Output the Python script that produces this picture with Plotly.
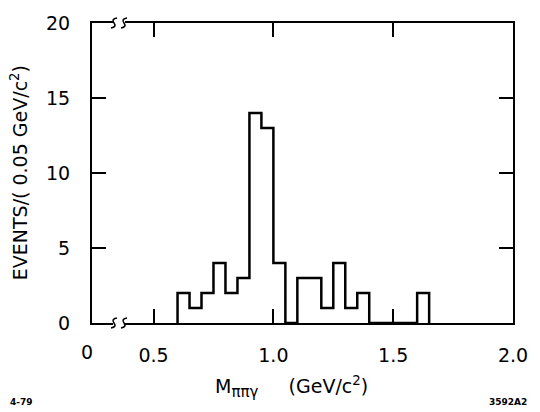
import plotly.graph_objects as go

# ---- data ----
bin_left = [0.60, 0.65, 0.70, 0.75, 0.80, 0.85, 0.90, 0.95, 1.00, 1.05,
            1.10, 1.15, 1.20, 1.25, 1.30, 1.35, 1.40, 1.45, 1.50, 1.55, 1.60]
bin_right_end = 1.65
counts = [2, 1, 2, 4, 2, 3, 14, 13, 4, 0,
          3, 3, 1, 4, 1, 2, 0, 0, 0, 0, 2]
x_tickvals = [0.5, 1.0, 1.5, 2.0]
x_ticktext = ["0.5", "1.0", "1.5", "2.0"]
y_tickvals = [0, 5, 10, 15, 20]

# step outline
xs = [bin_left[0]] + bin_left + [bin_right_end]
ys = [0] + counts + [0]

X_MIN = 0.243  # broken axis: left edge stands for 0

fig = go.Figure()
fig.add_trace(go.Scatter(x=xs, y=ys, mode="lines", line_shape="hv",
                         line=dict(color="black", width=2.5),
                         showlegend=False, hoverinfo="skip"))

font = "DejaVu Sans, Liberation Sans, sans-serif"

fig.update_layout(
    width=540, height=412,
    margin=dict(l=92, r=17, t=18, b=89),
    paper_bgcolor="white", plot_bgcolor="white",
    font=dict(family=font, color="black", size=19),
    xaxis=dict(range=[X_MIN, 2.0], tickvals=x_tickvals, ticktext=x_ticktext,
               showgrid=False, zeroline=False, showline=True, linecolor="black",
               linewidth=2, mirror="ticks", ticks="inside", ticklen=14,
               tickwidth=1.5, tickcolor="black", ticklabelstandoff=14,
               tickfont=dict(size=19)),
    yaxis=dict(range=[0, 20], tickvals=y_tickvals,
               showgrid=False, zeroline=False, showline=True, linecolor="black",
               linewidth=2, mirror="ticks", ticks="inside", ticklen=14,
               tickwidth=1.5, tickcolor="black", ticklabelstandoff=16,
               tickfont=dict(size=19)),
)

annotations = [
    dict(text="0", x=87, y=352, xref="paper", yref="paper"),
    dict(text="EVENTS/( 0.05 GeV/c<sup>2</sup>)", x=17, y=170, textangle=-90),
    dict(text="M<sub><span style='font-size:15px'>ππγ</span></sub>"
              "\u00a0\u00a0\u00a0\u00a0\u00a0(GeV/c<sup>2</sup>)", x=296, y=388),
    dict(text="<b>4-79</b>", x=20, y=403, size=9),
    dict(text="<b>3592A2</b>", x=518, y=403, size=9),
]
W, H = 540, 412
pw, ph = W - 92 - 17, H - 18 - 89
for a in annotations:
    size = a.pop("size", 19)
    px, py = a.pop("x"), a.pop("y")
    a.update(x=(px - 92) / pw, y=1 - (py - 18) / ph, xref="paper", yref="paper",
             showarrow=False, xanchor="center", yanchor="middle",
             font=dict(size=size, family=font, color="black"))
    fig.add_annotation(**a)

# axis-break marks (white gap + two squiggles) on bottom and top axes
for yanchor in (0, 1):
    fig.add_shape(type="rect", xref="x", yref="paper", xsizemode="pixel",
                  ysizemode="pixel", xanchor=X_MIN, yanchor=yanchor,
                  x0=21, x1=33, y0=-3, y1=3, fillcolor="white",
                  line=dict(width=0), layer="above")
    for cx in (22, 32):
        path = (f"M {cx-3},-5 Q {cx+3},-4 {cx},0 Q {cx-3},4 {cx+3},5")
        fig.add_shape(type="path", xref="x", yref="paper", xsizemode="pixel",
                      ysizemode="pixel", xanchor=X_MIN, yanchor=yanchor,
                      path=path, line=dict(color="black", width=1.5),
                      layer="above")

fig.write_html("out.html")
